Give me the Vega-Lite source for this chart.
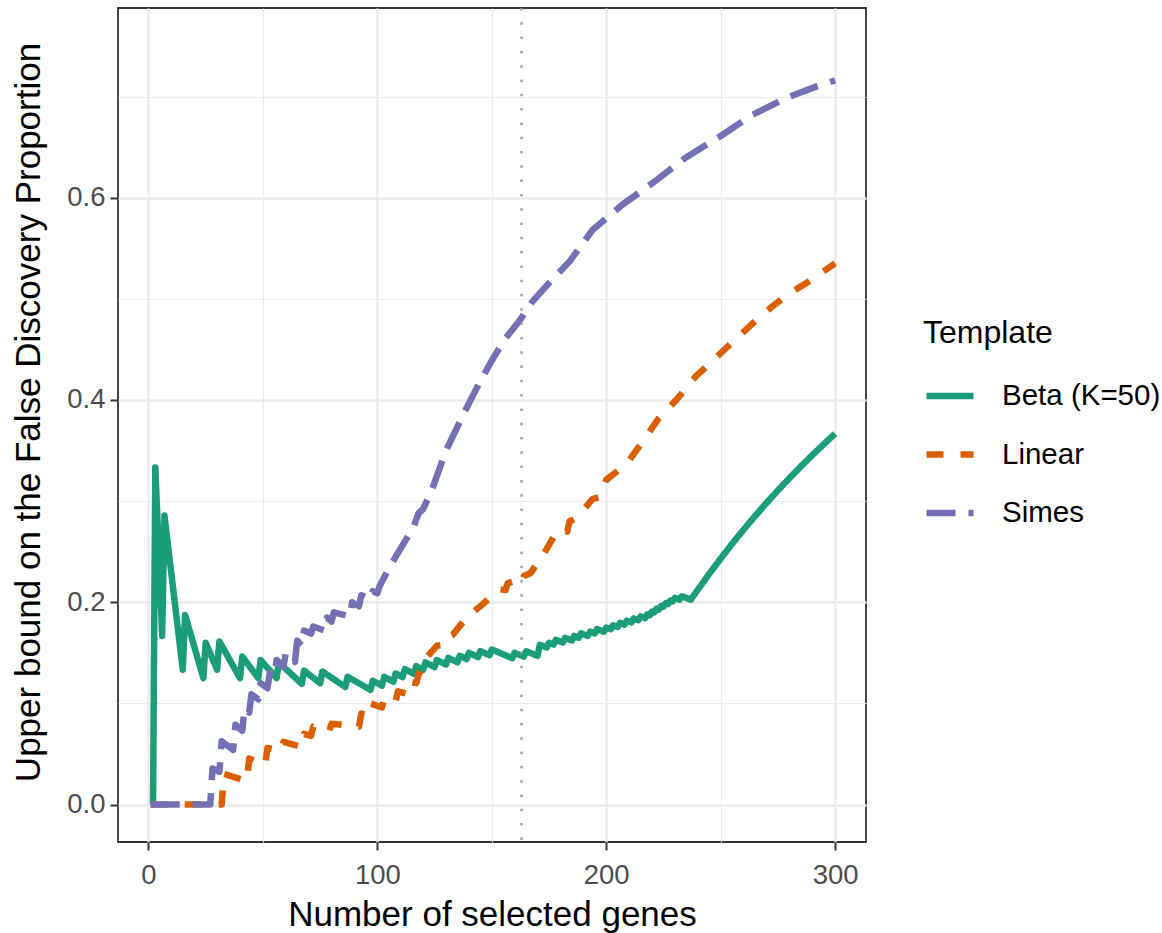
{
  "$schema": "https://vega.github.io/schema/vega-lite/v6.json",
  "width": 748,
  "height": 834,
  "autosize": {"type": "none"},
  "padding": {"left": 118, "top": 8, "right": 296, "bottom": 91},
  "background": "white",
  "config": {
    "font": "Liberation Sans",
    "view": {"stroke": "#333333", "strokeWidth": 1.8},
    "axis": {"labelFont": "Liberation Sans", "titleFont": "Liberation Sans"},
    "legend": {"labelFont": "Liberation Sans", "titleFont": "Liberation Sans"}
  },
  "datasets": {
    "curves": [
      {"genes": 1, "fdp": 0, "Template": "Beta (K=50)"},
      {"genes": 2, "fdp": 0, "Template": "Beta (K=50)"},
      {"genes": 3, "fdp": 0.3333, "Template": "Beta (K=50)"},
      {"genes": 6, "fdp": 0.1667, "Template": "Beta (K=50)"},
      {"genes": 7, "fdp": 0.2857, "Template": "Beta (K=50)"},
      {"genes": 15, "fdp": 0.1333, "Template": "Beta (K=50)"},
      {"genes": 16, "fdp": 0.1875, "Template": "Beta (K=50)"},
      {"genes": 24, "fdp": 0.125, "Template": "Beta (K=50)"},
      {"genes": 25, "fdp": 0.16, "Template": "Beta (K=50)"},
      {"genes": 30, "fdp": 0.1333, "Template": "Beta (K=50)"},
      {"genes": 31, "fdp": 0.1613, "Template": "Beta (K=50)"},
      {"genes": 40, "fdp": 0.125, "Template": "Beta (K=50)"},
      {"genes": 41, "fdp": 0.1463, "Template": "Beta (K=50)"},
      {"genes": 48, "fdp": 0.125, "Template": "Beta (K=50)"},
      {"genes": 49, "fdp": 0.1429, "Template": "Beta (K=50)"},
      {"genes": 56, "fdp": 0.125, "Template": "Beta (K=50)"},
      {"genes": 57, "fdp": 0.1404, "Template": "Beta (K=50)"},
      {"genes": 67, "fdp": 0.1194, "Template": "Beta (K=50)"},
      {"genes": 68, "fdp": 0.1324, "Template": "Beta (K=50)"},
      {"genes": 75, "fdp": 0.12, "Template": "Beta (K=50)"},
      {"genes": 76, "fdp": 0.1316, "Template": "Beta (K=50)"},
      {"genes": 86, "fdp": 0.1163, "Template": "Beta (K=50)"},
      {"genes": 87, "fdp": 0.1264, "Template": "Beta (K=50)"},
      {"genes": 97, "fdp": 0.1134, "Template": "Beta (K=50)"},
      {"genes": 98, "fdp": 0.1224, "Template": "Beta (K=50)"},
      {"genes": 102, "fdp": 0.1176, "Template": "Beta (K=50)"},
      {"genes": 103, "fdp": 0.1262, "Template": "Beta (K=50)"},
      {"genes": 107, "fdp": 0.1215, "Template": "Beta (K=50)"},
      {"genes": 108, "fdp": 0.1296, "Template": "Beta (K=50)"},
      {"genes": 111, "fdp": 0.1261, "Template": "Beta (K=50)"},
      {"genes": 112, "fdp": 0.1339, "Template": "Beta (K=50)"},
      {"genes": 116, "fdp": 0.1293, "Template": "Beta (K=50)"},
      {"genes": 117, "fdp": 0.1368, "Template": "Beta (K=50)"},
      {"genes": 120, "fdp": 0.1333, "Template": "Beta (K=50)"},
      {"genes": 121, "fdp": 0.1405, "Template": "Beta (K=50)"},
      {"genes": 125, "fdp": 0.136, "Template": "Beta (K=50)"},
      {"genes": 126, "fdp": 0.1429, "Template": "Beta (K=50)"},
      {"genes": 130, "fdp": 0.1385, "Template": "Beta (K=50)"},
      {"genes": 131, "fdp": 0.145, "Template": "Beta (K=50)"},
      {"genes": 135, "fdp": 0.1407, "Template": "Beta (K=50)"},
      {"genes": 136, "fdp": 0.1471, "Template": "Beta (K=50)"},
      {"genes": 139, "fdp": 0.1439, "Template": "Beta (K=50)"},
      {"genes": 140, "fdp": 0.15, "Template": "Beta (K=50)"},
      {"genes": 144, "fdp": 0.1458, "Template": "Beta (K=50)"},
      {"genes": 145, "fdp": 0.1517, "Template": "Beta (K=50)"},
      {"genes": 149, "fdp": 0.1477, "Template": "Beta (K=50)"},
      {"genes": 150, "fdp": 0.1533, "Template": "Beta (K=50)"},
      {"genes": 159, "fdp": 0.1447, "Template": "Beta (K=50)"},
      {"genes": 160, "fdp": 0.15, "Template": "Beta (K=50)"},
      {"genes": 164, "fdp": 0.1463, "Template": "Beta (K=50)"},
      {"genes": 165, "fdp": 0.1515, "Template": "Beta (K=50)"},
      {"genes": 170, "fdp": 0.1471, "Template": "Beta (K=50)"},
      {"genes": 171, "fdp": 0.1579, "Template": "Beta (K=50)"},
      {"genes": 174, "fdp": 0.1552, "Template": "Beta (K=50)"},
      {"genes": 175, "fdp": 0.16, "Template": "Beta (K=50)"},
      {"genes": 177, "fdp": 0.1582, "Template": "Beta (K=50)"},
      {"genes": 178, "fdp": 0.1629, "Template": "Beta (K=50)"},
      {"genes": 181, "fdp": 0.1602, "Template": "Beta (K=50)"},
      {"genes": 182, "fdp": 0.1648, "Template": "Beta (K=50)"},
      {"genes": 185, "fdp": 0.1622, "Template": "Beta (K=50)"},
      {"genes": 186, "fdp": 0.1667, "Template": "Beta (K=50)"},
      {"genes": 188, "fdp": 0.1649, "Template": "Beta (K=50)"},
      {"genes": 189, "fdp": 0.1693, "Template": "Beta (K=50)"},
      {"genes": 192, "fdp": 0.1667, "Template": "Beta (K=50)"},
      {"genes": 193, "fdp": 0.171, "Template": "Beta (K=50)"},
      {"genes": 195, "fdp": 0.1692, "Template": "Beta (K=50)"},
      {"genes": 196, "fdp": 0.1735, "Template": "Beta (K=50)"},
      {"genes": 199, "fdp": 0.1709, "Template": "Beta (K=50)"},
      {"genes": 200, "fdp": 0.175, "Template": "Beta (K=50)"},
      {"genes": 202, "fdp": 0.1733, "Template": "Beta (K=50)"},
      {"genes": 203, "fdp": 0.1773, "Template": "Beta (K=50)"},
      {"genes": 205, "fdp": 0.1756, "Template": "Beta (K=50)"},
      {"genes": 206, "fdp": 0.1796, "Template": "Beta (K=50)"},
      {"genes": 208, "fdp": 0.1779, "Template": "Beta (K=50)"},
      {"genes": 209, "fdp": 0.1818, "Template": "Beta (K=50)"},
      {"genes": 211, "fdp": 0.1801, "Template": "Beta (K=50)"},
      {"genes": 212, "fdp": 0.184, "Template": "Beta (K=50)"},
      {"genes": 214, "fdp": 0.1822, "Template": "Beta (K=50)"},
      {"genes": 215, "fdp": 0.186, "Template": "Beta (K=50)"},
      {"genes": 217, "fdp": 0.1843, "Template": "Beta (K=50)"},
      {"genes": 218, "fdp": 0.1881, "Template": "Beta (K=50)"},
      {"genes": 219, "fdp": 0.1872, "Template": "Beta (K=50)"},
      {"genes": 220, "fdp": 0.1909, "Template": "Beta (K=50)"},
      {"genes": 221, "fdp": 0.19, "Template": "Beta (K=50)"},
      {"genes": 222, "fdp": 0.1937, "Template": "Beta (K=50)"},
      {"genes": 223, "fdp": 0.1928, "Template": "Beta (K=50)"},
      {"genes": 224, "fdp": 0.1964, "Template": "Beta (K=50)"},
      {"genes": 225, "fdp": 0.1956, "Template": "Beta (K=50)"},
      {"genes": 226, "fdp": 0.1991, "Template": "Beta (K=50)"},
      {"genes": 227, "fdp": 0.1982, "Template": "Beta (K=50)"},
      {"genes": 228, "fdp": 0.2018, "Template": "Beta (K=50)"},
      {"genes": 229, "fdp": 0.2009, "Template": "Beta (K=50)"},
      {"genes": 230, "fdp": 0.2043, "Template": "Beta (K=50)"},
      {"genes": 232, "fdp": 0.2026, "Template": "Beta (K=50)"},
      {"genes": 233, "fdp": 0.206, "Template": "Beta (K=50)"},
      {"genes": 237, "fdp": 0.2025, "Template": "Beta (K=50)"},
      {"genes": 238, "fdp": 0.2059, "Template": "Beta (K=50)"},
      {"genes": 240, "fdp": 0.2124, "Template": "Beta (K=50)"},
      {"genes": 245, "fdp": 0.2281, "Template": "Beta (K=50)"},
      {"genes": 250, "fdp": 0.2432, "Template": "Beta (K=50)"},
      {"genes": 255, "fdp": 0.2578, "Template": "Beta (K=50)"},
      {"genes": 260, "fdp": 0.2717, "Template": "Beta (K=50)"},
      {"genes": 265, "fdp": 0.2852, "Template": "Beta (K=50)"},
      {"genes": 270, "fdp": 0.2981, "Template": "Beta (K=50)"},
      {"genes": 275, "fdp": 0.3106, "Template": "Beta (K=50)"},
      {"genes": 280, "fdp": 0.3226, "Template": "Beta (K=50)"},
      {"genes": 285, "fdp": 0.3342, "Template": "Beta (K=50)"},
      {"genes": 290, "fdp": 0.3454, "Template": "Beta (K=50)"},
      {"genes": 295, "fdp": 0.3562, "Template": "Beta (K=50)"},
      {"genes": 300, "fdp": 0.3667, "Template": "Beta (K=50)"},

      {"genes": 1, "fdp": 0, "Template": "Linear"},
      {"genes": 32, "fdp": 0, "Template": "Linear"},
      {"genes": 33, "fdp": 0.0303, "Template": "Linear"},
      {"genes": 43, "fdp": 0.0233, "Template": "Linear"},
      {"genes": 44, "fdp": 0.0455, "Template": "Linear"},
      {"genes": 51, "fdp": 0.0392, "Template": "Linear"},
      {"genes": 52, "fdp": 0.056, "Template": "Linear"},
      {"genes": 58, "fdp": 0.053, "Template": "Linear"},
      {"genes": 59, "fdp": 0.062, "Template": "Linear"},
      {"genes": 67, "fdp": 0.057, "Template": "Linear"},
      {"genes": 68, "fdp": 0.07, "Template": "Linear"},
      {"genes": 71, "fdp": 0.068, "Template": "Linear"},
      {"genes": 72, "fdp": 0.077, "Template": "Linear"},
      {"genes": 79, "fdp": 0.073, "Template": "Linear"},
      {"genes": 80, "fdp": 0.08, "Template": "Linear"},
      {"genes": 92, "fdp": 0.077, "Template": "Linear"},
      {"genes": 93, "fdp": 0.09, "Template": "Linear"},
      {"genes": 96, "fdp": 0.088, "Template": "Linear"},
      {"genes": 97, "fdp": 0.1, "Template": "Linear"},
      {"genes": 102, "fdp": 0.096, "Template": "Linear"},
      {"genes": 103, "fdp": 0.105, "Template": "Linear"},
      {"genes": 108, "fdp": 0.102, "Template": "Linear"},
      {"genes": 109, "fdp": 0.112, "Template": "Linear"},
      {"genes": 114, "fdp": 0.109, "Template": "Linear"},
      {"genes": 115, "fdp": 0.121, "Template": "Linear"},
      {"genes": 117, "fdp": 0.12, "Template": "Linear"},
      {"genes": 118, "fdp": 0.128, "Template": "Linear"},
      {"genes": 121, "fdp": 0.144, "Template": "Linear"},
      {"genes": 126, "fdp": 0.157, "Template": "Linear"},
      {"genes": 129, "fdp": 0.158, "Template": "Linear"},
      {"genes": 130, "fdp": 0.165, "Template": "Linear"},
      {"genes": 133, "fdp": 0.168, "Template": "Linear"},
      {"genes": 139, "fdp": 0.185, "Template": "Linear"},
      {"genes": 146, "fdp": 0.198, "Template": "Linear"},
      {"genes": 153, "fdp": 0.213, "Template": "Linear"},
      {"genes": 156, "fdp": 0.212, "Template": "Linear"},
      {"genes": 157, "fdp": 0.219, "Template": "Linear"},
      {"genes": 160, "fdp": 0.221, "Template": "Linear"},
      {"genes": 163, "fdp": 0.218, "Template": "Linear"},
      {"genes": 164, "fdp": 0.226, "Template": "Linear"},
      {"genes": 167, "fdp": 0.229, "Template": "Linear"},
      {"genes": 173, "fdp": 0.249, "Template": "Linear"},
      {"genes": 179, "fdp": 0.272, "Template": "Linear"},
      {"genes": 183, "fdp": 0.27, "Template": "Linear"},
      {"genes": 184, "fdp": 0.28, "Template": "Linear"},
      {"genes": 187, "fdp": 0.283, "Template": "Linear"},
      {"genes": 194, "fdp": 0.302, "Template": "Linear"},
      {"genes": 197, "fdp": 0.304, "Template": "Linear"},
      {"genes": 200, "fdp": 0.321, "Template": "Linear"},
      {"genes": 209, "fdp": 0.337, "Template": "Linear"},
      {"genes": 215, "fdp": 0.356, "Template": "Linear"},
      {"genes": 223, "fdp": 0.382, "Template": "Linear"},
      {"genes": 231, "fdp": 0.401, "Template": "Linear"},
      {"genes": 239, "fdp": 0.423, "Template": "Linear"},
      {"genes": 248, "fdp": 0.442, "Template": "Linear"},
      {"genes": 257, "fdp": 0.461, "Template": "Linear"},
      {"genes": 266, "fdp": 0.48, "Template": "Linear"},
      {"genes": 274, "fdp": 0.495, "Template": "Linear"},
      {"genes": 280, "fdp": 0.505, "Template": "Linear"},
      {"genes": 289, "fdp": 0.518, "Template": "Linear"},
      {"genes": 300, "fdp": 0.535, "Template": "Linear"},

      {"genes": 1, "fdp": 0, "Template": "Simes"},
      {"genes": 27, "fdp": 0, "Template": "Simes"},
      {"genes": 28, "fdp": 0.0357, "Template": "Simes"},
      {"genes": 31, "fdp": 0.0323, "Template": "Simes"},
      {"genes": 32, "fdp": 0.0625, "Template": "Simes"},
      {"genes": 37, "fdp": 0.054, "Template": "Simes"},
      {"genes": 38, "fdp": 0.079, "Template": "Simes"},
      {"genes": 41, "fdp": 0.073, "Template": "Simes"},
      {"genes": 42, "fdp": 0.095, "Template": "Simes"},
      {"genes": 44, "fdp": 0.091, "Template": "Simes"},
      {"genes": 45, "fdp": 0.109, "Template": "Simes"},
      {"genes": 48, "fdp": 0.104, "Template": "Simes"},
      {"genes": 49, "fdp": 0.12, "Template": "Simes"},
      {"genes": 52, "fdp": 0.115, "Template": "Simes"},
      {"genes": 53, "fdp": 0.13, "Template": "Simes"},
      {"genes": 55, "fdp": 0.127, "Template": "Simes"},
      {"genes": 56, "fdp": 0.143, "Template": "Simes"},
      {"genes": 59, "fdp": 0.136, "Template": "Simes"},
      {"genes": 60, "fdp": 0.15, "Template": "Simes"},
      {"genes": 64, "fdp": 0.141, "Template": "Simes"},
      {"genes": 65, "fdp": 0.162, "Template": "Simes"},
      {"genes": 67, "fdp": 0.157, "Template": "Simes"},
      {"genes": 68, "fdp": 0.172, "Template": "Simes"},
      {"genes": 71, "fdp": 0.169, "Template": "Simes"},
      {"genes": 72, "fdp": 0.176, "Template": "Simes"},
      {"genes": 77, "fdp": 0.172, "Template": "Simes"},
      {"genes": 78, "fdp": 0.185, "Template": "Simes"},
      {"genes": 80, "fdp": 0.181, "Template": "Simes"},
      {"genes": 81, "fdp": 0.19, "Template": "Simes"},
      {"genes": 88, "fdp": 0.186, "Template": "Simes"},
      {"genes": 89, "fdp": 0.2, "Template": "Simes"},
      {"genes": 92, "fdp": 0.196, "Template": "Simes"},
      {"genes": 93, "fdp": 0.207, "Template": "Simes"},
      {"genes": 97, "fdp": 0.203, "Template": "Simes"},
      {"genes": 98, "fdp": 0.211, "Template": "Simes"},
      {"genes": 100, "fdp": 0.209, "Template": "Simes"},
      {"genes": 101, "fdp": 0.216, "Template": "Simes"},
      {"genes": 104, "fdp": 0.229, "Template": "Simes"},
      {"genes": 108, "fdp": 0.245, "Template": "Simes"},
      {"genes": 112, "fdp": 0.26, "Template": "Simes"},
      {"genes": 116, "fdp": 0.275, "Template": "Simes"},
      {"genes": 117, "fdp": 0.282, "Template": "Simes"},
      {"genes": 118, "fdp": 0.288, "Template": "Simes"},
      {"genes": 120, "fdp": 0.292, "Template": "Simes"},
      {"genes": 124, "fdp": 0.312, "Template": "Simes"},
      {"genes": 130, "fdp": 0.35, "Template": "Simes"},
      {"genes": 137, "fdp": 0.383, "Template": "Simes"},
      {"genes": 143, "fdp": 0.41, "Template": "Simes"},
      {"genes": 150, "fdp": 0.439, "Template": "Simes"},
      {"genes": 156, "fdp": 0.461, "Template": "Simes"},
      {"genes": 162, "fdp": 0.478, "Template": "Simes"},
      {"genes": 168, "fdp": 0.498, "Template": "Simes"},
      {"genes": 174, "fdp": 0.513, "Template": "Simes"},
      {"genes": 184, "fdp": 0.537, "Template": "Simes"},
      {"genes": 194, "fdp": 0.568, "Template": "Simes"},
      {"genes": 207, "fdp": 0.593, "Template": "Simes"},
      {"genes": 220, "fdp": 0.614, "Template": "Simes"},
      {"genes": 235, "fdp": 0.64, "Template": "Simes"},
      {"genes": 250, "fdp": 0.661, "Template": "Simes"},
      {"genes": 264, "fdp": 0.682, "Template": "Simes"},
      {"genes": 279, "fdp": 0.699, "Template": "Simes"},
      {"genes": 292, "fdp": 0.71, "Template": "Simes"},
      {"genes": 300, "fdp": 0.716, "Template": "Simes"}
    ],
    "cutoff": [{"genes": 163}]
  },
  "layer": [
    {
      "data": {"name": "curves"},
      "mark": {"type": "line", "strokeWidth": 6.5, "strokeCap": "butt", "strokeJoin": "round"},
      "encoding": {
        "x": {
          "field": "genes", "type": "quantitative",
          "scale": {"domain": [-13.3, 313.5], "nice": false, "zero": false},
          "axis": {
            "values": [0, 50, 100, 150, 200, 250, 300],
            "domain": false,
            "grid": true,
            "gridColor": "#EBEBEB",
            "gridWidth": {"condition": {"test": "datum.value % 100 === 0", "value": 2.4}, "value": 1.2},
            "tickSize": 8,
            "tickWidth": 2,
            "tickColor": "#333333",
            "tickOpacity": {"condition": {"test": "datum.value % 100 === 0", "value": 1}, "value": 0},
            "labelExpr": "datum.value % 100 === 0 ? datum.label : ''",
            "labelFontSize": 27.5,
            "labelColor": "#4D4D4D",
            "labelPadding": 11.3,
            "labelFlush": false,
            "labelOverlap": false,
            "title": "Number of selected genes",
            "titleFontSize": 35,
            "titleFontWeight": "normal",
            "titleColor": "#000000",
            "titleX": 374,
            "titleY": 83,
            "titleBaseline": "alphabetic"
          }
        },
        "y": {
          "field": "fdp", "type": "quantitative",
          "scale": {"domain": [-0.037, 0.7875], "nice": false, "zero": false},
          "axis": {
            "values": [0, 0.1, 0.2, 0.3, 0.4, 0.5, 0.6, 0.7],
            "format": ".1f",
            "domain": false,
            "grid": true,
            "gridColor": "#EBEBEB",
            "gridWidth": {"condition": {"test": "round(datum.value * 10) % 2 === 0", "value": 2.4}, "value": 1.2},
            "tickSize": 8,
            "tickWidth": 2,
            "tickColor": "#333333",
            "tickOpacity": {"condition": {"test": "round(datum.value * 10) % 2 === 0", "value": 1}, "value": 0},
            "labelExpr": "round(datum.value * 10) % 2 === 0 ? datum.label : ''",
            "labelFontSize": 27.5,
            "labelColor": "#4D4D4D",
            "labelPadding": 5,
            "labelFlush": false,
            "labelOverlap": false,
            "title": "Upper bound on the False Discovery Proportion",
            "titleFontSize": 35,
            "titleFontWeight": "normal",
            "titleColor": "#000000",
            "titleX": -79,
            "titleY": 404,
            "titleBaseline": "alphabetic"
          }
        },
        "color": {
          "field": "Template", "type": "nominal",
          "scale": {"domain": ["Beta (K=50)", "Linear", "Simes"], "range": ["#1B9E77", "#D95F02", "#7570B3"]},
          "legend": {
            "orient": "none",
            "legendX": 805,
            "legendY": 310,
            "title": "Template",
            "titleFontSize": 32,
            "titleFontWeight": "normal",
            "titleColor": "#000000",
            "titlePadding": 19,
            "labelFontSize": 29.5,
            "labelColor": "#000000",
            "labelOffset": 25,
            "symbolType": "stroke",
            "symbolSize": 2209,
            "symbolStrokeWidth": 6.5,
            "rowPadding": 16.5,
            "padding": 0
          }
        },
        "strokeDash": {
          "field": "Template", "type": "nominal",
          "scale": {"domain": ["Beta (K=50)", "Linear", "Simes"], "range": [[1, 0], [17, 17], [29, 13]]}
        }
      }
    },
    {
      "data": {"name": "cutoff"},
      "mark": {"type": "rule", "color": "#999999", "strokeWidth": 2.2, "strokeDash": [2.5, 11.8]},
      "encoding": {"x": {"field": "genes", "type": "quantitative"}}
    }
  ]
}
